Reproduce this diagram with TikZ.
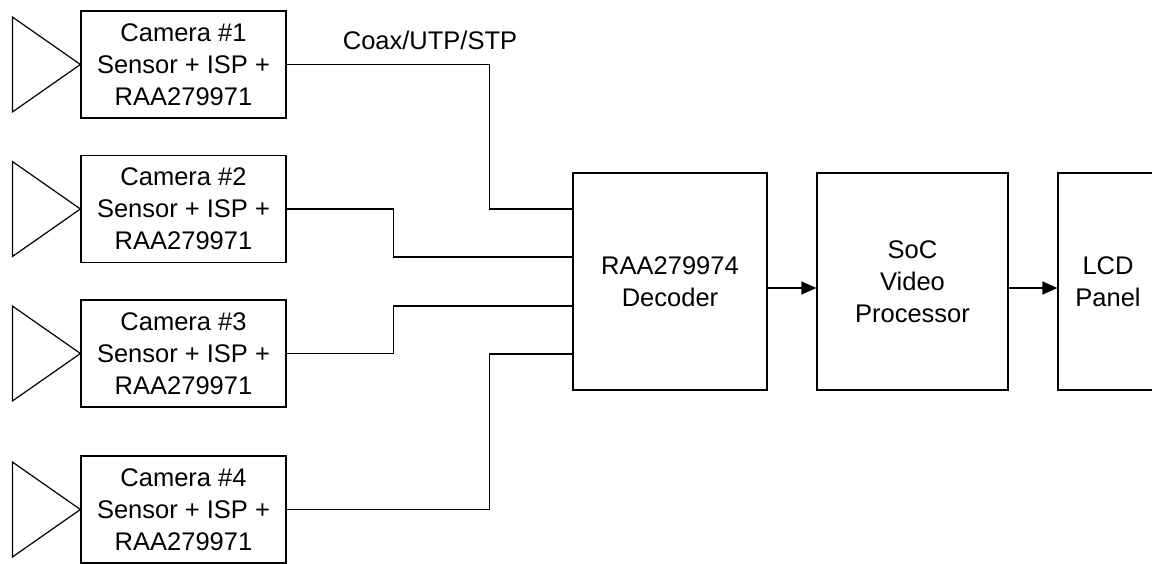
\documentclass[tikz,border=0pt]{standalone}
\usepackage{fontspec}
\setmainfont{Liberation Sans}
\usetikzlibrary{arrows.meta}
\begin{document}
\begin{tikzpicture}[x=1pt,y=-1pt,
  line width=1.2pt,
  every node/.style={font=\fontsize{25.5}{32}\selectfont, inner sep=0pt},
  cambox/.style={draw, minimum width=205pt, minimum height=107pt, align=center},
  bigbox/.style={draw, minimum height=217pt, align=center},
  arr/.style={-{Triangle[length=15pt,width=13pt]}}]
\useasboundingbox (0,0) rectangle (1152,563);
\clip (0,0) rectangle (1152,563);
% cameras
\node[cambox] (c1) at (183.5,64.5) {Camera \#1\\Sensor + ISP +\\RAA279971};
\node[cambox] (c2) at (183.5,209) {Camera \#2\\Sensor + ISP +\\RAA279971};
\node[cambox] (c3) at (183.5,353.5) {Camera \#3\\Sensor + ISP +\\RAA279971};
\node[cambox] (c4) at (183.5,509.5) {Camera \#4\\Sensor + ISP +\\RAA279971};
% sensor triangles
\foreach \c in {c1,c2,c3,c4}{
  \draw ([xshift=-68pt,yshift=47.5pt]\c.west) -- (\c.west) -- ([xshift=-68pt,yshift=-47.5pt]\c.west) -- cycle;
}
% main blocks
\node[bigbox, minimum width=194pt] (dec) at (670,281.5) {RAA279974\\Decoder};
\node[bigbox, minimum width=191pt] (soc) at (912.5,281.5) {SoC\\Video\\Processor};
\node[bigbox, minimum width=100pt] (lcd) at (1108,281.5) {LCD\\Panel};
% decoder inputs
\coordinate (d1) at ([yshift=72.5pt]dec.west);
\coordinate (d2) at ([yshift=24.5pt]dec.west);
\coordinate (d3) at ([yshift=-24.5pt]dec.west);
\coordinate (d4) at ([yshift=-72.5pt]dec.west);
\draw (c1.east) -| ([xshift=-83pt]d1) -- (d1);
\draw (c2.east) -| ([xshift=-179pt]d2) -- (d2);
\draw (c3.east) -| ([xshift=-179pt]d3) -- (d3);
\draw (c4.east) -| ([xshift=-83pt]d4) -- (d4);
\node (lbl) at (430,40) {Coax/UTP/STP};
% outputs
\draw[arr] ([yshift=-6.5pt]dec.east) -- ([yshift=-6.5pt]soc.west);
\draw[arr] ([yshift=-6.5pt]soc.east) -- ([yshift=-6.5pt]lcd.west);
\end{tikzpicture}
\end{document}
